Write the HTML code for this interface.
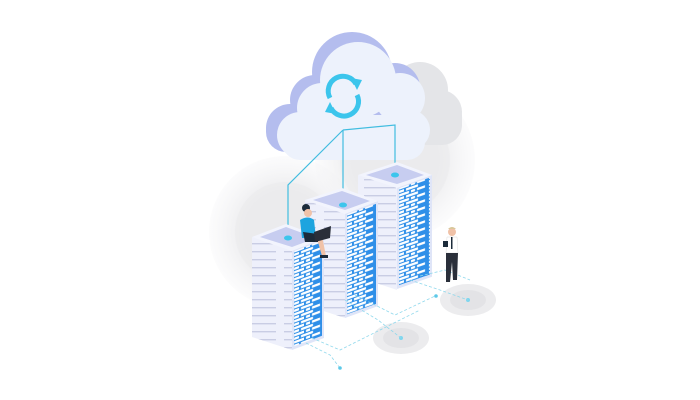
<!DOCTYPE html>
<html><head><meta charset="utf-8"><style>html,body{margin:0;padding:0;background:#fff}svg{display:block}</style></head>
<body>
<svg width="700" height="400" viewBox="0 0 700 400" xmlns="http://www.w3.org/2000/svg">
<defs>
<radialGradient id="gc" cx="50%" cy="50%" r="50%">
<stop offset="0.55" stop-color="#ececee"/><stop offset="1" stop-color="#f4f4f6" stop-opacity="0.3"/></radialGradient>
<pattern id="dash" width="30" height="7" patternUnits="userSpaceOnUse">
<rect width="30" height="7" fill="#2f8fe8"/>
<rect x="2" y="1" width="10" height="2.4" fill="#fff"/><rect x="14" y="1" width="4" height="2.4" fill="#fff"/><rect x="20" y="1" width="8" height="2.4" fill="#fff"/>
<rect x="2" y="4.5" width="5" height="2.4" fill="#fff"/><rect x="9" y="4.5" width="12" height="2.4" fill="#fff"/>
</pattern>
<pattern id="slots" width="40" height="8" patternUnits="userSpaceOnUse">
<rect width="40" height="8" fill="#eef0fb"/><rect x="4" y="3" width="32" height="1.4" fill="#c9cde4"/>
</pattern>
</defs>
<circle cx="285" cy="232" r="76" fill="url(#gc)"/>
<circle cx="395" cy="160" r="80" fill="url(#gc)"/>
<circle cx="395" cy="160" r="55" fill="#ebebed" opacity="0.6"/>
<circle cx="285" cy="232" r="50" fill="#ebebed" opacity="0.6"/>
<g fill="#e4e5e8">
<circle cx="420" cy="90" r="28"/><circle cx="440" cy="112" r="22"/><rect x="380" y="95" width="82" height="50" rx="20"/>
</g>
<g fill="#b4bdee">
<circle cx="290" cy="128" r="24"/><circle cx="315" cy="100" r="25"/><circle cx="352" cy="72" r="40"/><circle cx="395" cy="88" r="25"/>
<rect x="266" y="110" width="150" height="42" rx="20"/>
</g>
<g fill="#edf2fc">
<circle cx="300" cy="135" r="23"/><circle cx="322" cy="108" r="25"/><circle cx="358" cy="80" r="38"/><circle cx="400" cy="98" r="25"/><circle cx="410" cy="130" r="20"/>
<rect x="282" y="115" width="143" height="45" rx="18"/>
</g>
<g fill="none" stroke="#3cc5ec" stroke-width="5">
<path d="M330 98 A14 14 0 0 1 356 84"/><path d="M357 95 A14 14 0 0 1 331 108"/>
</g>
<path d="M351 78 L362 80 L357 90 Z" fill="#3cc5ec"/><path d="M336 114 L325 112 L330 102 Z" fill="#3cc5ec"/>
<g stroke="#41bde0" stroke-width="1.2" fill="none">
<path d="M343 130 V205"/><path d="M343 130 L395 125 V175"/><path d="M343 130 L288 185 V238"/>
</g>
<polygon points="358,175 397,187 397,290 358,277" fill="url(#slots)"/>
<g transform="matrix(1,-0.35,0,1,397,187)"><rect x="0" y="0" width="35" height="102" fill="#dfe5f8"/><rect x="2" y="2" width="31" height="97" fill="url(#dash)"/></g>
<polygon points="358,175 397,162 432,175 397,188" fill="#f2f4fd"/>
<polygon points="366,175 397,165 424,175 397,184" fill="#c7cdf0"/>
<ellipse cx="395" cy="175" rx="4" ry="2.5" fill="#3cc5ec"/>
<polygon points="305,200 345,213 345,318 305,305" fill="url(#slots)"/>
<g transform="matrix(1,-0.36,0,1,345,213)"><rect x="0" y="0" width="33" height="105" fill="#dfe5f8"/><rect x="2" y="2" width="29" height="100" fill="url(#dash)"/></g>
<polygon points="305,200 342,188 378,201 345,214" fill="#f2f4fd"/>
<polygon points="313,200 342,191 370,201 345,210" fill="#c7cdf0"/>
<ellipse cx="343" cy="205" rx="4" ry="2.5" fill="#3cc5ec"/>
<polygon points="252,237 292,250 292,350 252,337" fill="url(#slots)"/>
<g transform="matrix(1,-0.375,0,1,292,250)"><rect x="0" y="0" width="32" height="100" fill="#dfe5f8"/><rect x="2" y="2" width="28" height="95" fill="url(#dash)"/></g>
<polygon points="252,237 286,224 324,238 292,251" fill="#f2f4fd"/>
<polygon points="260,237 286,227 316,238 292,247" fill="#c7cdf0"/>
<ellipse cx="288" cy="238" rx="4" ry="2.5" fill="#3cc5ec"/>
<ellipse cx="401" cy="338" rx="28" ry="16" fill="#ececee"/><ellipse cx="401" cy="338" rx="18" ry="10" fill="#e3e3e6"/>
<ellipse cx="468" cy="300" rx="28" ry="16" fill="#ececee"/><ellipse cx="468" cy="300" rx="18" ry="10" fill="#e3e3e6"/>
<circle cx="401" cy="338" r="2" fill="#7fd6ee"/><circle cx="468" cy="300" r="2" fill="#7fd6ee"/>
<g stroke="#8fd8ec" stroke-width="0.8" fill="none" stroke-dasharray="3 2">
<path d="M312 338 L340 350 L420 310"/><path d="M306 343 L330 355 L340 368"/>
<path d="M345 300 L378 320 L401 338"/><path d="M355 295 L395 315 L435 296"/>
<path d="M410 280 L440 290 L468 300"/><path d="M420 276 L445 270 L470 280"/>
</g>
<circle cx="340" cy="368" r="1.8" fill="#5cc9e8"/><circle cx="436" cy="296" r="1.8" fill="#5cc9e8"/>
<circle cx="306" cy="208" r="4" fill="#1c2b3a"/><circle cx="308" cy="213" r="4" fill="#f0c2a8"/>
<path d="M300 220 Q308 215 314 220 L316 238 L302 238 Z" fill="#1da4df"/>
<path d="M304 236 L322 236 L326 256 L322 256 L318 242 L305 242 Z" fill="#f0c2a8"/>
<path d="M303 232 L318 234 L318 242 L305 242 Z" fill="#1c2b3a"/>
<polygon points="314,232 331,226 330,238 315,242" fill="#2a2f3a"/>
<rect x="320" y="255" width="8" height="3" fill="#1c2b3a"/>
<circle cx="452" cy="232" r="4" fill="#f0c2a8"/><path d="M448 229 Q452 225 456 229" fill="#d9c79a"/>
<path d="M447 237 L457 237 L458 253 L446 253 Z" fill="#fff" stroke="#ddd" stroke-width="0.5"/>
<rect x="451" y="237" width="1.5" height="12" fill="#1c2b3a"/>
<rect x="443" y="241" width="5" height="6" fill="#1c2b3a"/>
<path d="M446 253 L458 253 L457 280 L453 280 L452 262 L450 282 L446 282 Z" fill="#2a2f3a"/>
</svg>
</body></html>
